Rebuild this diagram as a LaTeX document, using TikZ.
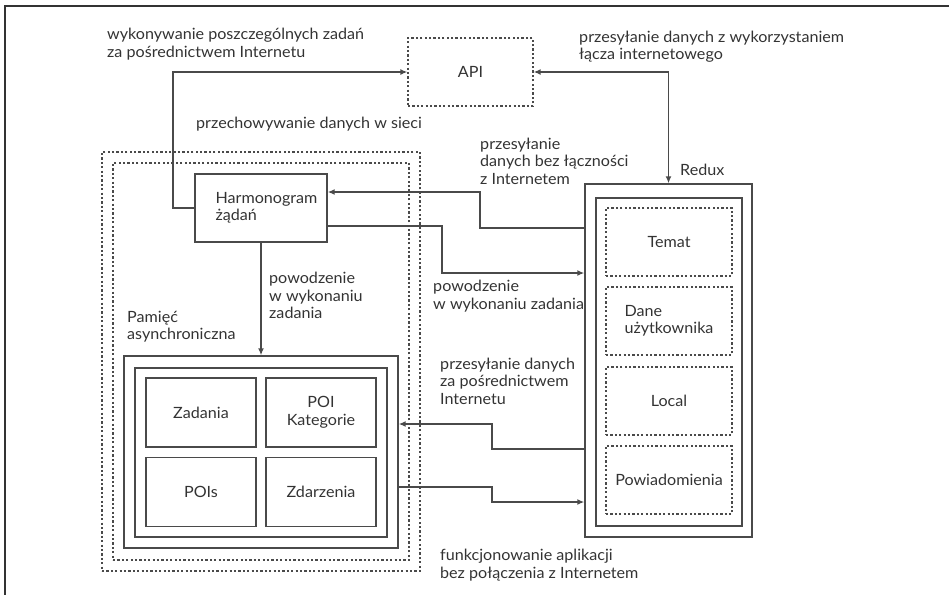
\documentclass[tikz,border=0pt]{standalone}
\usepackage{fontspec}
\setmainfont{Lato}[FakeStretch=1.04]
\usetikzlibrary{arrows.meta}
\definecolor{ln}{HTML}{4A4A4A}
\definecolor{tx}{HTML}{333333}
\tikzset{
  lbl/.style={anchor=west,inner sep=0pt,align=left,text=tx,font=\fontsize{15.5}{17.5}\selectfont},
  dashbox/.style={draw=ln,line width=1.3pt,dash pattern=on 2.2pt off 2.2pt},
  solid/.style={draw=ln,line width=1.4pt},
  boxtxt/.style={text=tx,font=\fontsize{15.5}{17.5}\selectfont,align=left,inner sep=0pt},
  conn/.style={draw=ln,line width=1.4pt},
  tip/.style={-{Latex[length=7pt,width=6pt]}},
}
\begin{document}
\begin{tikzpicture}[x=1pt,y=-1pt]
\useasboundingbox (0,0) rectangle (949,595);
\draw[tx,line width=1.5pt] (949,6) -| (5,595);

% API
\node[dashbox,boxtxt,minimum width=125pt,minimum height=68pt] (api) at (470.5,72) {API};

% offline storage dotted frames
\node[dashbox,minimum width=318pt,minimum height=419pt] (od1) at (261,361.5) {};
\node[dashbox,minimum width=296pt,minimum height=397pt] (od2) at (261,361.5) {};

% Harmonogram
\node[solid,boxtxt,minimum width=132pt,minimum height=68pt] (harm) at (261,208) {\hspace*{11pt}Harmonogram\\\hspace*{11pt}żądań};

% Pamięć asynchroniczna
\node[solid,minimum width=274pt,minimum height=192pt] (pam) at (261,452) {};
\node[solid,minimum width=252pt,minimum height=169pt] (pami) at (261,452.5) {};
\node[solid,boxtxt,minimum width=110pt,minimum height=69pt] (zad) at (201,412.5) {Zadania};
\node[solid,boxtxt,align=center,minimum width=110pt,minimum height=69pt] (poik) at (321,412.5) {POI\\Kategorie};
\node[solid,boxtxt,minimum width=110pt,minimum height=69pt] (pois) at (201,492) {POIs};
\node[solid,boxtxt,minimum width=110pt,minimum height=69pt] (zdarz) at (321,492) {Zdarzenia};

% Redux
\node[solid,minimum width=167pt,minimum height=353pt] (redux) at (668.5,360.5) {};
\node[solid,minimum width=146pt,minimum height=328pt] (reduxi) at (669,362) {};
\node[dashbox,boxtxt,minimum width=126pt,minimum height=68pt] (temat) at (669,242) {Temat};
\node[dashbox,boxtxt,minimum width=126pt,minimum height=68pt] (dane) at (669,321) {Dane\\użytkownika};
\node[dashbox,boxtxt,minimum width=126pt,minimum height=68pt] (local) at (669,401) {Local};
\node[dashbox,boxtxt,minimum width=126pt,minimum height=68pt] (powiad) at (669,480) {Powiadomienia};

% labels
\node[lbl] (l1) at (107,44) {wykonywanie poszczególnych zadań\\za pośrednictwem Internetu};
\node[lbl] (l2) at (579,46.5) {przesyłanie danych z wykorzystaniem\\łącza internetowego};
\node[lbl] (l3) at (196,124) {przechowywanie danych w sieci};
\node[lbl] (l4) at (480,161) {przesyłanie\\danych bez łączności\\z Internetem};
\node[lbl] (l5) at (680,170) {Redux};
\node[lbl] (l6) at (269,295.5) {powodzenie\\w wykonaniu\\zadania};
\node[lbl] (l7) at (433,296) {powodzenie\\w wykonaniu zadania};
\node[lbl] (l8) at (127,326.5) {Pamięć\\asynchroniczna};
\node[lbl] (l9) at (440,381) {przesyłanie danych\\za pośrednictwem\\Internetu};
\node[lbl] (l10) at (440,565) {funkcjonowanie aplikacji\\bez połączenia z Internetem};

% connectors
\draw[conn,tip] (harm.west) -- (173,208) |- (api.west);
\draw[conn,{Latex[length=7pt,width=6pt]}-{Latex[length=7pt,width=6pt]}] (api.east) -| (redux.north);
\draw[conn,tip] (redux.west |- {(0,228)}) -- (480,228) -- (480,192) -- (harm.east |- {(0,192)});
\draw[conn,tip] (harm.east |- {(0,226)}) -- (442,226) -- (442,273) -- (redux.west |- {(0,273)});
\draw[conn,tip] (harm.south) -- (pam.north);
\draw[conn,tip] (redux.west |- {(0,449)}) -- (492,449) -- (492,424) -- (pam.east |- {(0,424)});
\draw[conn,tip] (pam.east |- {(0,487)}) -- (492,487) -- (492,502) -- (redux.west |- {(0,502)});
\end{tikzpicture}
\end{document}
